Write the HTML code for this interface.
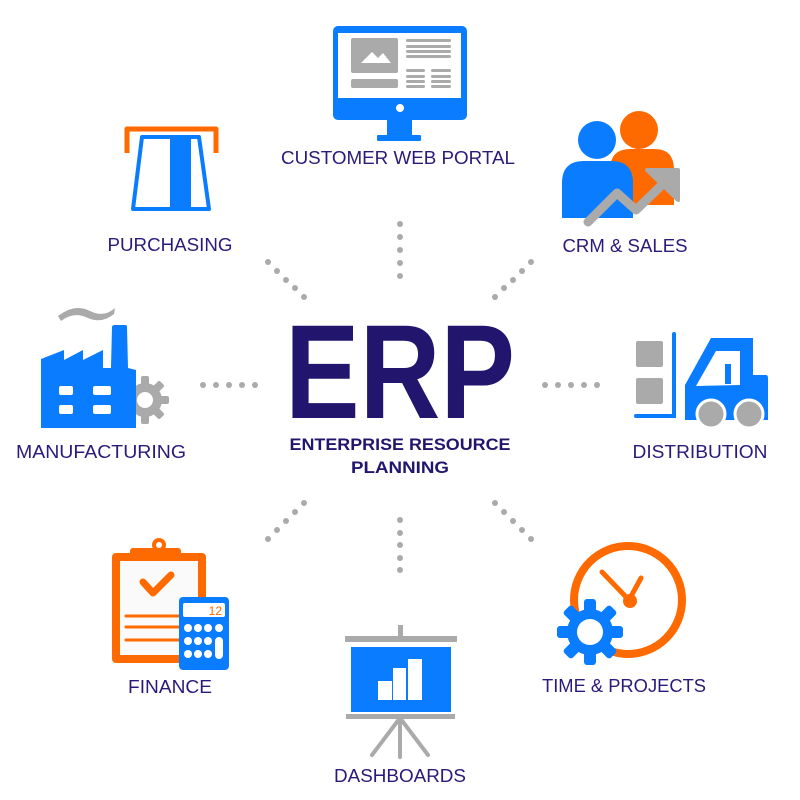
<!DOCTYPE html>
<html><head><meta charset="utf-8"><style>
html,body{margin:0;padding:0;background:#fff;}
svg{display:block}
text{font-family:"Liberation Sans",sans-serif;fill:#2a1a7a}
</style></head><body>
<svg width="800" height="800" viewBox="0 0 800 800" xmlns="http://www.w3.org/2000/svg">
<g fill="#aaaaaa">
<circle cx="400" cy="224" r="3"/><circle cx="400" cy="237" r="3"/><circle cx="400" cy="250" r="3"/><circle cx="400" cy="263" r="3"/><circle cx="400" cy="276" r="3"/>
<circle cx="400" cy="520" r="3"/><circle cx="400" cy="533" r="3"/><circle cx="400" cy="545" r="3"/><circle cx="400" cy="558" r="3"/><circle cx="400" cy="570" r="3"/>
<circle cx="203" cy="385" r="3"/><circle cx="216" cy="385" r="3"/><circle cx="229" cy="385" r="3"/><circle cx="242" cy="385" r="3"/><circle cx="255" cy="385" r="3"/>
<circle cx="545" cy="385" r="3"/><circle cx="558" cy="385" r="3"/><circle cx="571" cy="385" r="3"/><circle cx="584" cy="385" r="3"/><circle cx="597" cy="385" r="3"/>
<circle cx="268" cy="262" r="3"/><circle cx="277" cy="271" r="3"/><circle cx="286" cy="280" r="3"/><circle cx="295" cy="288" r="3"/><circle cx="304" cy="297" r="3"/>
<circle cx="531" cy="262" r="3"/><circle cx="522" cy="271" r="3"/><circle cx="513" cy="280" r="3"/><circle cx="504" cy="288" r="3"/><circle cx="495" cy="297" r="3"/>
<circle cx="304" cy="503" r="3"/><circle cx="295" cy="512" r="3"/><circle cx="286" cy="521" r="3"/><circle cx="277" cy="530" r="3"/><circle cx="268" cy="539" r="3"/>
<circle cx="495" cy="503" r="3"/><circle cx="504" cy="512" r="3"/><circle cx="513" cy="521" r="3"/><circle cx="522" cy="530" r="3"/><circle cx="531" cy="539" r="3"/>
</g>
<text x="400" y="418" text-anchor="middle" font-size="134" font-weight="bold" textLength="230" lengthAdjust="spacingAndGlyphs" style="fill:#22156e">ERP</text>
<text x="400" y="450" text-anchor="middle" font-size="17" font-weight="bold" textLength="221" lengthAdjust="spacingAndGlyphs" style="fill:#22156e">ENTERPRISE RESOURCE</text>
<text x="400" y="473" text-anchor="middle" font-size="17" font-weight="bold" textLength="98" lengthAdjust="spacingAndGlyphs" style="fill:#22156e">PLANNING</text>

<rect x="333" y="26" width="134" height="94" rx="5" fill="#0a7cff"/>
<rect x="338" y="33" width="123" height="65" fill="#fff"/>
<rect x="351" y="38" width="47" height="35" rx="2" fill="#aaa"/>
<path d="M361 63 L372 52 L378 58 L383 53 L391 63 Z" fill="#fff"/>
<g fill="#aaa"><rect x="406" y="39" width="45" height="3" rx="1.5"/><rect x="406" y="45" width="45" height="3" rx="1.5"/><rect x="406" y="50" width="45" height="3" rx="1.5"/><rect x="406" y="55" width="45" height="3" rx="1.5"/>
<rect x="406" y="69" width="19" height="3" rx="1.5"/><rect x="406" y="75" width="19" height="3" rx="1.5"/><rect x="406" y="80" width="19" height="3" rx="1.5"/><rect x="406" y="85" width="19" height="3" rx="1.5"/>
<rect x="431" y="69" width="20" height="3" rx="1.5"/><rect x="431" y="75" width="20" height="3" rx="1.5"/><rect x="431" y="80" width="20" height="3" rx="1.5"/><rect x="431" y="85" width="20" height="3" rx="1.5"/>
<rect x="351" y="79" width="47" height="9" rx="2"/></g>
<circle cx="400" cy="108" r="4" fill="#fff"/>
<rect x="387" y="118" width="25" height="18" fill="#0a7cff"/>
<rect x="377" y="135" width="44" height="6" rx="1" fill="#0a7cff"/>
<text x="398" y="164" text-anchor="middle" font-size="18" textLength="234" lengthAdjust="spacingAndGlyphs">CUSTOMER WEB PORTAL</text>

<circle cx="639" cy="130" r="19" fill="#ff6a00"/>
<path d="M610 205 L610 170 Q610 149 630 149 L655 149 Q674 149 674 170 L674 205 Z" fill="#ff6a00"/>
<circle cx="597" cy="140" r="19" fill="#0a7cff"/>
<path d="M562 218 L562 183 Q562 161 584 161 L611 161 Q633 161 633 183 L633 218 Z" fill="#0a7cff"/>
<polyline points="588,222 617,193 636,210 668,179" fill="none" stroke="#aaa" stroke-width="9" stroke-linecap="round" stroke-linejoin="round"/>
<path d="M647 170 L678 170 L678 200 Z" fill="#aaa" stroke="#aaa" stroke-width="4" stroke-linejoin="round"/>
<text x="625" y="252" text-anchor="middle" font-size="18" textLength="125" lengthAdjust="spacingAndGlyphs">CRM &amp; SALES</text>

<path d="M127 153 L127 129 L216 129 L216 153" fill="none" stroke="#ff6a00" stroke-width="5" stroke-linejoin="round"/>
<path d="M142 137 L199 137 L209 209 L133 209 Z" fill="#fff" stroke="#0a7cff" stroke-width="4" stroke-linejoin="round"/>
<rect x="170" y="137" width="21" height="74" fill="#0a7cff"/>
<text x="170" y="251" text-anchor="middle" font-size="18" textLength="125" lengthAdjust="spacingAndGlyphs">PURCHASING</text>

<path d="M58 316 Q75 303 90 311 Q104 318 115 308 L114 314 Q102 324 88 318 Q74 311 61 321 Z" fill="#aaa"/>
<g transform="translate(145,400)" fill="#aaa">
<circle r="17"/>
<g><rect x="-4" y="-24" width="8" height="48" rx="2"/><rect x="-4" y="-24" width="8" height="48" rx="2" transform="rotate(45)"/><rect x="-4" y="-24" width="8" height="48" rx="2" transform="rotate(90)"/><rect x="-4" y="-24" width="8" height="48" rx="2" transform="rotate(135)"/></g>
<circle r="8" fill="#fff"/>
</g>
<path d="M41 359 L64 350 L64 360 L83 350 L83 360 L103 350 L103 368 L111 368 L112 327 Q112 325 115 325 L125 325 Q127 325 127 327 L128 368 L136 370 L136 428 L41 428 Z" fill="#0a7cff"/>
<g fill="#fff"><rect x="59" y="386" width="14" height="9" rx="2"/><rect x="93" y="386" width="18" height="9" rx="2"/><rect x="59" y="405" width="14" height="9" rx="2"/><rect x="93" y="405" width="18" height="9" rx="2"/></g>
<text x="101" y="458" text-anchor="middle" font-size="18" textLength="170" lengthAdjust="spacingAndGlyphs">MANUFACTURING</text>

<g fill="#aaa"><rect x="636" y="341" width="27" height="26" rx="2"/><rect x="636" y="378" width="27" height="26" rx="2"/></g>
<path d="M674 334 L674 416 L636 416" fill="none" stroke="#0a7cff" stroke-width="4" stroke-linecap="round"/>
<path d="M685 385 L711 338 L753 338 L753 375 L766 375 Q768 375 768 378 L768 420 L685 420 Z" fill="#0a7cff"/>
<path d="M716 351 L740 351 L740 385 L696 386 Z" fill="#fff"/>
<rect x="725" y="364" width="6" height="20" fill="#0a7cff"/>
<circle cx="711" cy="414" r="14" fill="#aaa" stroke="#fff" stroke-width="3"/>
<circle cx="749" cy="414" r="14" fill="#aaa" stroke="#fff" stroke-width="3"/>
<text x="700" y="458" text-anchor="middle" font-size="18" textLength="135" lengthAdjust="spacingAndGlyphs">DISTRIBUTION</text>

<rect x="112" y="553" width="94" height="110" rx="4" fill="#ff6a00"/>
<rect x="120" y="561" width="78" height="94" fill="#fafafa"/>
<rect x="130" y="548" width="51" height="10" rx="3" fill="#ff6a00"/>
<circle cx="159" cy="545" r="7" fill="#ff6a00"/><circle cx="159" cy="545" r="3" fill="#fff"/>
<polyline points="143,582 153,593 171,575" fill="none" stroke="#ff6a00" stroke-width="7" stroke-linecap="round" stroke-linejoin="round"/>
<g stroke="#ff6a00" stroke-width="3" stroke-linecap="round"><line x1="126" y1="616" x2="190" y2="616"/><line x1="126" y1="627" x2="190" y2="627"/><line x1="126" y1="640" x2="190" y2="640"/></g>
<rect x="179" y="597" width="50" height="73" rx="4" fill="#0a7cff"/>
<rect x="183" y="603" width="42" height="14" rx="2" fill="#fff"/>
<text x="222" y="615" text-anchor="end" font-size="12" style="fill:#ff6a00">12</text>
<g fill="#fff"><circle cx="188" cy="628" r="4"/><circle cx="198" cy="628" r="4"/><circle cx="208" cy="628" r="4"/><circle cx="219" cy="628" r="4"/>
<circle cx="188" cy="641" r="4"/><circle cx="198" cy="641" r="4"/><circle cx="208" cy="641" r="4"/>
<circle cx="188" cy="654" r="4"/><circle cx="198" cy="654" r="4"/><circle cx="208" cy="654" r="4"/>
<rect x="215" y="637" width="8" height="22" rx="4"/></g>
<text x="170" y="693" text-anchor="middle" font-size="18" textLength="84" lengthAdjust="spacingAndGlyphs">FINANCE</text>

<rect x="398" y="625" width="5" height="13" fill="#aaa"/>
<rect x="345" y="636" width="112" height="6" fill="#aaa"/>
<rect x="351" y="647" width="100" height="65" fill="#0a7cff"/>
<g fill="#fff"><rect x="378" y="681" width="14" height="19"/><rect x="393" y="668" width="13" height="32"/><rect x="408" y="659" width="14" height="41"/></g>
<rect x="346" y="714" width="109" height="5" fill="#aaa"/>
<g stroke="#aaa" stroke-width="4" stroke-linecap="round"><line x1="400" y1="718" x2="372" y2="755"/><line x1="400" y1="718" x2="400" y2="757"/><line x1="400" y1="718" x2="428" y2="755"/></g>
<text x="400" y="782" text-anchor="middle" font-size="18" textLength="132" lengthAdjust="spacingAndGlyphs">DASHBOARDS</text>

<circle cx="628" cy="600" r="54" fill="none" stroke="#ff6a00" stroke-width="8"/>
<g stroke="#ff6a00" stroke-width="5" stroke-linecap="round"><line x1="602" y1="572" x2="629" y2="600"/><line x1="641" y1="578" x2="629" y2="600"/></g>
<circle cx="630" cy="601" r="7" fill="#ff6a00"/>
<g transform="translate(590,632)" fill="#0a7cff">
<circle r="23"/>
<g><rect x="-6" y="-33" width="12" height="66" rx="3"/><rect x="-6" y="-33" width="12" height="66" rx="3" transform="rotate(45)"/><rect x="-6" y="-33" width="12" height="66" rx="3" transform="rotate(90)"/><rect x="-6" y="-33" width="12" height="66" rx="3" transform="rotate(135)"/></g>
<circle r="13" fill="#fff"/>
</g>
<text x="624" y="692" text-anchor="middle" font-size="18" textLength="164" lengthAdjust="spacingAndGlyphs">TIME &amp; PROJECTS</text>
</svg>
</body></html>
